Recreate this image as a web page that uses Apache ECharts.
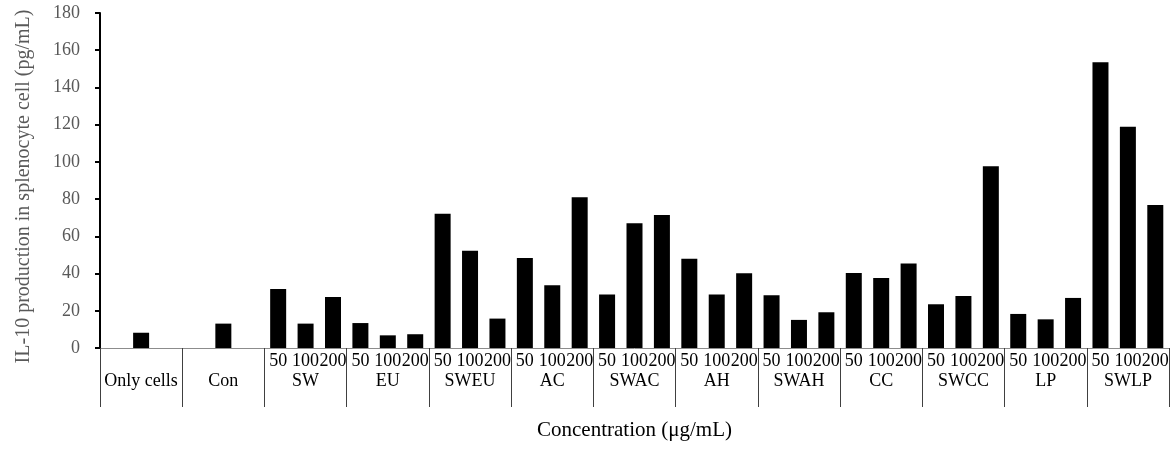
<!DOCTYPE html>
<html>
<head>
<meta charset="utf-8">
<script src="https://cdn.jsdelivr.net/npm/echarts@6/dist/echarts.min.js"></script>
<style>
html,body{margin:0;padding:0;background:#fff;}
#chart{width:1172px;height:451px;}
</style>
</head>
<body>
<div id="chart"></div>
<script>
// ---- data ----
var groupNames = ['Only cells','Con','SW','EU','SWEU','AC','SWAC','AH','SWAH','CC','SWCC','LP','SWLP'];
var doseTicks = ['50','100','200'];
var controlValues = [8.2, 13.1];            // Only cells, Con (single middle bar)
var dose50  = [31.7, 13.4, 72.1, 48.4, 28.7, 47.9, 28.3, 40.3, 23.5, 18.3, 153.5];
var dose100 = [13.1,  6.8, 52.2, 33.7, 67.0, 28.7, 15.1, 37.6, 28.0, 15.4, 118.9];
var dose200 = [27.4,  7.4, 15.8, 81.0, 71.4, 40.2, 19.2, 45.4, 97.7, 26.9, 76.9];
var yTicks = [0,20,40,60,80,100,120,140,160,180];

// ---- build slots ----
var slotIds = [], slotLabels = [], slotValues = [];
groupNames.forEach(function (g, gi) {
  for (var k = 0; k < 3; k++) {
    slotIds.push(g + '_' + k);
    if (gi < 2) {
      slotLabels.push('');
      slotValues.push(k === 1 ? controlValues[gi] : '-');
    } else {
      slotLabels.push(doseTicks[k]);
      var t = gi - 2;
      slotValues.push([dose50[t], dose100[t], dose200[t]][k]);
    }
  }
});

var serif = 'Liberation Serif, Times New Roman, serif';
var chart = echarts.init(document.getElementById('chart'));
chart.setOption({
  animation: false,
  backgroundColor: '#ffffff',
  grid: { left: 100, right: 3, top: 13, bottom: 103, containLabel: false },
  xAxis: [
    {
      type: 'category',
      data: slotIds,
      position: 'bottom',
      axisLine: { show: true, lineStyle: { color: '#8c8c8c', width: 1 } },
      axisTick: { show: false },
      axisLabel: {
        interval: 0, margin: 4, color: '#000', fontFamily: serif, fontSize: 18,
        formatter: function (v, i) { return slotLabels[i]; }
      },
      name: 'Concentration (\u03bcg/mL)',
      nameLocation: 'middle',
      nameGap: 72,
      nameTextStyle: { color: '#000', fontFamily: serif, fontSize: 21 }
    },
    {
      type: 'category',
      data: groupNames,
      position: 'bottom',
      boundaryGap: true,
      axisLine: { show: false },
      axisTick: { show: true, interval: 0, length: 59, lineStyle: { color: '#404040', width: 1 } },
      axisLabel: { interval: 0, margin: 24, color: '#000', fontFamily: serif, fontSize: 18 },
      splitLine: { show: false }
    }
  ],
  yAxis: {
    type: 'value',
    min: yTicks[0],
    max: yTicks[yTicks.length - 1],
    interval: 20,
    axisLine: { show: true, lineStyle: { color: '#000', width: 2 } },
    axisTick: { show: true, length: 5, lineStyle: { color: '#000', width: 2 } },
    axisLabel: { margin: 20, color: '#595959', fontFamily: serif, fontSize: 18 },
    splitLine: { show: false },
    name: 'IL-10 production in splenocyte cell (pg/mL)',
    nameLocation: 'middle',
    nameGap: 66,
    nameTextStyle: { color: '#595959', fontFamily: serif, fontSize: 20, padding: [0, 12, 0, 0] }
  },
  series: [{
    type: 'bar',
    xAxisIndex: 0,
    data: slotValues,
    barWidth: 16,
    itemStyle: { color: '#000' }
  }]
});
</script>
</body>
</html>
